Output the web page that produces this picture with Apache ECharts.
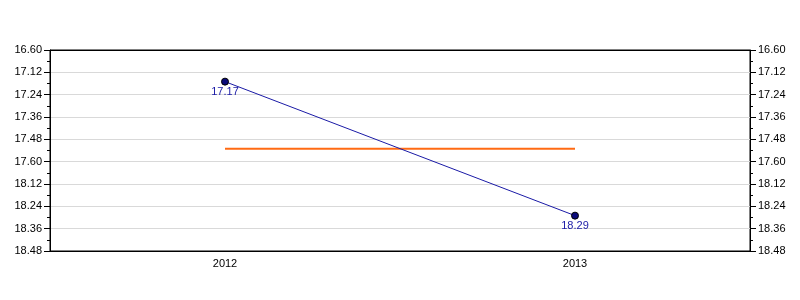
<!DOCTYPE html>
<html><head><meta charset="utf-8">
<script src="https://cdn.jsdelivr.net/npm/echarts@6/dist/echarts.min.js"></script>
<style>html,body{margin:0;padding:0;background:#fff}#c{width:800px;height:300px}</style>
</head><body><div id="c"></div>
<script>
// times stored as seconds (mm.ss display)
const categories = ['2012', '2013'];
const timeValues = [1037, 1109];          // 17.17, 18.29
const averageValues = [1073, 1073];       // 17.53
const yMin = 1020, yMax = 1128, yInterval = 12;

function fmt(v) {
  v = Math.round(v);
  const m = Math.floor((v - 1) / 60);
  const s = v - m * 60;
  return m + '.' + (s < 10 ? '0' + s : s);
}
function fmtLabel(v) {
  const m = Math.floor(v / 60);
  const s = v - m * 60;
  return m + '.' + (s < 10 ? '0' + s : s);
}

const yAxisCommon = {
  type: 'value', inverse: true, min: yMin, max: yMax, interval: yInterval,
  axisLine: { show: true, lineStyle: { color: '#000', width: 1 } },
  axisTick: { show: true, length: 6, lineStyle: { color: '#000' } },
  minorTick: { show: true, splitNumber: 2, length: 3, lineStyle: { color: '#000' } },
  axisLabel: { color: '#000', fontFamily: 'Liberation Sans, Arial, sans-serif', fontSize: 11, formatter: fmt, margin: 8 },
};

const chart = echarts.init(document.getElementById('c'));
chart.setOption({
  animation: false,
  grid: { left: 50, right: 50, top: 50, bottom: 49, show: true, borderColor: '#000', borderWidth: 1, backgroundColor: 'transparent' },
  xAxis: [{
    type: 'category', data: categories, boundaryGap: true,
    axisLine: { lineStyle: { color: '#000' } },
    axisTick: { alignWithLabel: true, length: 5, lineStyle: { color: '#000' } },
    axisLabel: { color: '#000', fontFamily: 'Liberation Sans, Arial, sans-serif', fontSize: 11, margin: 7 },
    splitLine: { show: false }
  }, {
    type: 'category', data: categories, position: 'top',
    axisLine: { show: true, lineStyle: { color: '#000' } },
    axisTick: { show: false }, axisLabel: { show: false }, splitLine: { show: false }
  }],
  yAxis: [
    Object.assign({}, yAxisCommon, { position: 'left', splitLine: { show: true, lineStyle: { color: '#d9d9d9', width: 1 } } }),
    Object.assign({}, yAxisCommon, { position: 'right', splitLine: { show: false } })
  ],
  series: [
    {
      type: 'line', data: averageValues, yAxisIndex: 0, symbol: 'none',
      lineStyle: { color: '#ff6a13', width: 2 }, z: 2
    },
    {
      type: 'line', data: timeValues, yAxisIndex: 0,
      symbol: 'circle', symbolSize: 7,
      itemStyle: { color: '#0b0b7a', borderColor: '#000', borderWidth: 1 },
      lineStyle: { color: '#1a1aa6', width: 1 },
      label: { show: true, position: 'bottom', distance: 1, color: '#1a1aa6', fontFamily: 'Liberation Sans, Arial, sans-serif', fontSize: 11, formatter: p => fmtLabel(p.value) },
      z: 3
    }
  ]
});
</script></body></html>
